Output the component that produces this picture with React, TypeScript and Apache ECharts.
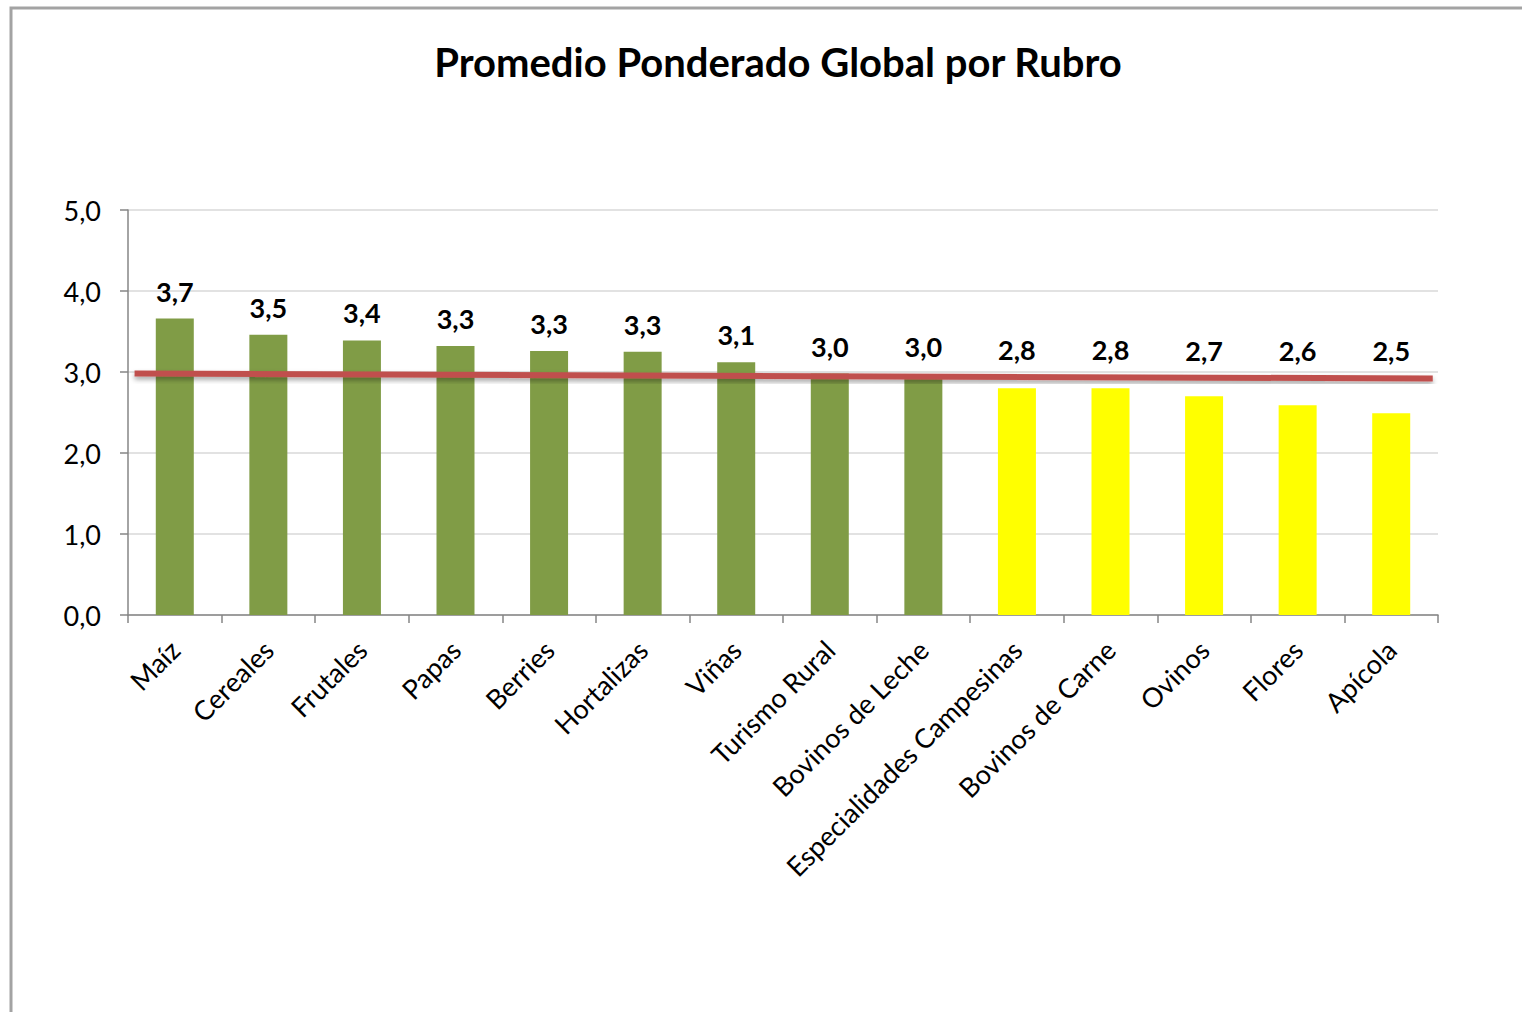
import React, { useEffect, useRef } from "react";
import * as echarts from "echarts";

const title = "Promedio Ponderado Global por Rubro";
const categories = [
  "Maíz", "Cereales", "Frutales", "Papas", "Berries", "Hortalizas", "Viñas",
  "Turismo Rural", "Bovinos de Leche", "Especialidades Campesinas",
  "Bovinos de Carne", "Ovinos", "Flores", "Apícola",
];
const values = [3.66, 3.46, 3.39, 3.32, 3.26, 3.25, 3.12, 2.98, 2.97, 2.8, 2.8, 2.7, 2.59, 2.49];
const tiers = ["high", "high", "high", "high", "high", "high", "high", "high", "high", "low", "low", "low", "low", "low"];
const yTicks = [0, 1, 2, 3, 4, 5];
// reference line: start/end positions along the plot (fraction) and value
const refLineX = [0.005, 0.996];
const refLineY = [2.98, 2.92];

const FONT = "Lato, 'Open Sans', sans-serif";
const GRID = { left: 128, right: 84, top: 210, bottom: 397 };
const PLOT_H = 1012 - GRID.top - GRID.bottom;

function fmt(v: number) {
  return v.toFixed(1).replace(".", ",");
}

function lineAt(i: number) {
  const f = (i + 0.5) / categories.length;
  const t = (f - refLineX[0]) / (refLineX[1] - refLineX[0]);
  return refLineY[0] + (refLineY[1] - refLineY[0]) * t;
}

export default function App() {
  const ref = useRef<HTMLDivElement>(null);
  useEffect(() => {
    if (!ref.current) return;
    const chart = echarts.init(ref.current, undefined, { renderer: "svg" });
    const ymax = yTicks[yTicks.length - 1];
    const ppu = PLOT_H / ymax;
    const barData = values.map((v, i) => {
      const below = Math.max(0, lineAt(i) - v);
      return {
        value: v,
        itemStyle: { color: tiers[i] === "high" ? "#809c46" : "#ffff00" },
        label: { distance: 14 + below * ppu },
      };
    });
    chart.setOption({
      animation: false,
      backgroundColor: "#ffffff",
      title: {
        text: title,
        left: 773,
        textAlign: "center",
        top: 37,
        textStyle: { fontFamily: FONT, fontWeight: "bold", fontSize: 40, color: "#000" },
      },
      graphic: [
        {
          type: "rect",
          shape: { x: 11, y: 8, width: 1700, height: 1200 },
          style: { fill: "none", stroke: "#a3a3a3", lineWidth: 3 },
          silent: true,
        },
      ],
      grid: { ...GRID, containLabel: false },
      xAxis: [
        {
          type: "category",
          data: categories,
          axisLine: { lineStyle: { color: "#868686", width: 1.5 } },
          axisTick: { show: true, length: 8, lineStyle: { color: "#868686", width: 1.5 } },
          axisLabel: {
            rotate: 45,
            interval: 0,
            margin: 30,
            fontFamily: FONT,
            fontSize: 27,
            color: "#000",
          },
        },
        { type: "value", min: 0, max: 1, show: false },
      ],
      yAxis: {
        type: "value",
        min: 0,
        max: ymax,
        interval: 1,
        axisLine: { show: true, lineStyle: { color: "#868686", width: 1.5 } },
        axisTick: { show: true, length: 8, lineStyle: { color: "#868686", width: 1.5 } },
        splitLine: { show: true, lineStyle: { color: "#d9d9d9", width: 1.5 } },
        axisLabel: {
          formatter: (v: number) => fmt(v),
          margin: 27,
          fontFamily: FONT,
          fontSize: 27,
          color: "#000",
        },
      },
      series: [
        {
          type: "bar",
          data: barData,
          barWidth: 38,
          label: {
            show: true,
            position: "top",
            formatter: (p: any) => fmt(p.value),
            fontFamily: FONT,
            fontWeight: "bold",
            fontSize: 27,
            color: "#000",
          },
        },
        {
          type: "line",
          xAxisIndex: 1,
          data: refLineX.map((x, i) => [x, refLineY[i]]),
          symbol: "none",
          lineStyle: {
            color: "#c0504d",
            width: 6,
            shadowColor: "rgba(0,0,0,0.35)",
            shadowBlur: 5,
            shadowOffsetY: 3,
          },
          z: 5,
        },
      ],
    });
    return () => chart.dispose();
  }, []);
  return (
    <div
      ref={ref}
      style={{ position: "fixed", left: 0, top: 0, width: 1522, height: 1012, background: "#fff" }}
    />
  );
}
